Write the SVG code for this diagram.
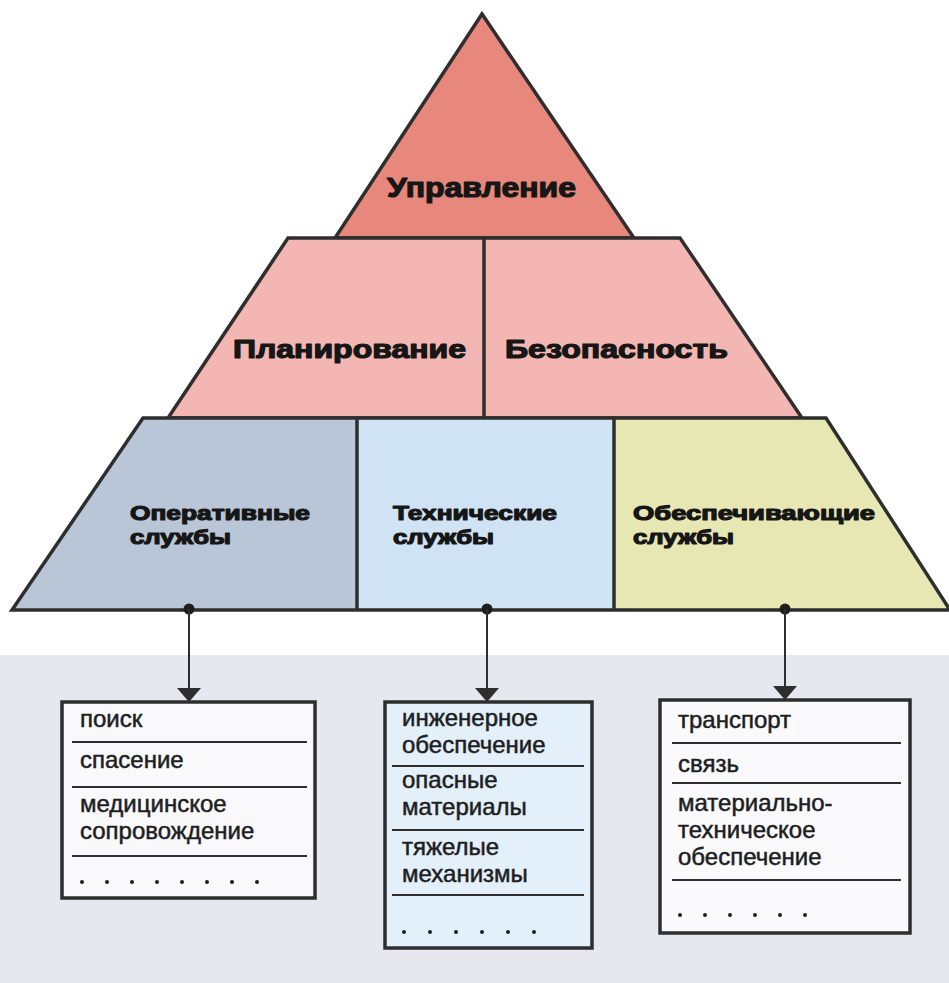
<svg xmlns="http://www.w3.org/2000/svg" width="949" height="983" viewBox="0 0 949 983">
  <style>
    .tier { stroke: #2e2e2e; stroke-width: 3.5; stroke-linejoin: miter; }
    .div { stroke: #2e2e2e; stroke-width: 3.5; }
    .head { font-family: "Liberation Sans", Arial, sans-serif; font-weight: bold; fill: #161616; stroke: #161616; stroke-width: 1.2; stroke-linejoin: round; }
    .h1 { font-size: 28px; }
    .h2 { font-size: 26px; }
    .h3 { font-size: 21px; }
    .box { stroke: #2e2e2e; stroke-width: 3.5; }
    .sep { stroke: #2e2e2e; stroke-width: 2; }
    .item { font-family: "Liberation Sans", Arial, sans-serif; font-size: 24px; fill: #1e1e1e; stroke: #1e1e1e; stroke-width: 0.5; }
    .dots { fill: #1e1e1e; }
    .conn { stroke: #2e2e2e; stroke-width: 2; fill: none; }
  </style>
  <defs>
    <marker id="arrow" viewBox="0 0 14 24" refX="14" refY="12" markerWidth="14" markerHeight="24" markerUnits="userSpaceOnUse" orient="auto">
      <path d="M0,0 L14,12 L0,24 Z" fill="#2e2e2e"/>
    </marker>
  </defs>

  <!-- background -->
  <rect x="0" y="0" width="949" height="983" fill="#ffffff"/>
  <rect x="0" y="655" width="949" height="328" fill="#e7e7f0"/>

  <!-- pyramid -->
  <g id="upravlenie">
    <polygon class="tier" points="482,14 335,238 634,238" fill="#e8877c"/>
    <text class="head h1" x="387" y="197" textLength="189" lengthAdjust="spacingAndGlyphs">Управление</text>
  </g>
  <g id="tier2">
    <polygon class="tier" points="288,238 680,238 802,418 168,418" fill="#f3b6b3"/>
    <line class="div" x1="484" y1="238" x2="484" y2="418"/>
  </g>
  <g id="planirovanie">
    <text class="head h2" x="233" y="358" textLength="233" lengthAdjust="spacingAndGlyphs">Планирование</text>
  </g>
  <g id="bezopasnost">
    <text class="head h2" x="505" y="358" textLength="223" lengthAdjust="spacingAndGlyphs">Безопасность</text>
  </g>
  <g id="tier3">
    <polygon points="143,418 357,418 357,610 12,610" fill="#b9c6d7"/>
    <polygon points="357,418 614,418 614,610 357,610" fill="#d0e3f5"/>
    <polygon points="614,418 826,418 950,610 614,610" fill="#e6e7b3"/>
    <polygon class="tier" points="143,418 826,418 950,610 12,610" fill="none"/>
    <line class="div" x1="357" y1="418" x2="357" y2="610"/>
    <line class="div" x1="614" y1="418" x2="614" y2="610"/>
  </g>
  <g id="operativnye">
    <text class="head h3"><tspan x="130" y="520" textLength="180" lengthAdjust="spacingAndGlyphs">Оперативные</tspan><tspan x="130" y="544" textLength="101" lengthAdjust="spacingAndGlyphs">службы</tspan></text>
  </g>
  <g id="tekhnicheskie">
    <text class="head h3"><tspan x="393" y="520" textLength="164" lengthAdjust="spacingAndGlyphs">Технические</tspan><tspan x="393" y="544" textLength="101" lengthAdjust="spacingAndGlyphs">службы</tspan></text>
  </g>
  <g id="obespechivayushchie">
    <text class="head h3"><tspan x="633" y="520" textLength="242" lengthAdjust="spacingAndGlyphs">Обеспечивающие</tspan><tspan x="633" y="544" textLength="101" lengthAdjust="spacingAndGlyphs">службы</tspan></text>
  </g>

  <!-- connectors -->
  <g id="connectors">
    <circle cx="189" cy="609" r="5.5" fill="#1e1e1e"/>
    <circle cx="487" cy="609" r="5.5" fill="#1e1e1e"/>
    <circle cx="785" cy="609" r="5.5" fill="#1e1e1e"/>
    <line class="conn" x1="189" y1="609" x2="189" y2="702" marker-end="url(#arrow)"/>
    <line class="conn" x1="487" y1="609" x2="487" y2="702" marker-end="url(#arrow)"/>
    <line class="conn" x1="785" y1="609" x2="785" y2="700" marker-end="url(#arrow)"/>
  </g>

  <!-- box 1 -->
  <g id="box-operativnye">
    <rect class="box" x="62" y="702" width="253" height="196" fill="#f9f9fc"/>
    <text class="item" x="80" y="727">поиск</text>
    <line class="sep" x1="72" y1="742" x2="307" y2="742"/>
    <text class="item" x="80" y="768">спасение</text>
    <line class="sep" x1="72" y1="787" x2="307" y2="787"/>
    <text class="item"><tspan x="80" y="812">медицинское</tspan><tspan x="80" y="839">сопровождение</tspan></text>
    <line class="sep" x1="72" y1="856" x2="307" y2="856"/>
    <g class="dots">
      <circle cx="82" cy="882" r="2"/><circle cx="107" cy="882" r="2"/><circle cx="132" cy="882" r="2"/><circle cx="157" cy="882" r="2"/>
      <circle cx="182" cy="882" r="2"/><circle cx="207" cy="882" r="2"/><circle cx="232" cy="882" r="2"/><circle cx="257" cy="882" r="2"/>
    </g>
  </g>

  <!-- box 2 -->
  <g id="box-tekhnicheskie">
    <rect class="box" x="385" y="702" width="207" height="246" fill="#e3eff9"/>
    <text class="item"><tspan x="402" y="726">инженерное</tspan><tspan x="402" y="753">обеспечение</tspan></text>
    <line class="sep" x1="392" y1="766" x2="584" y2="766"/>
    <text class="item"><tspan x="402" y="788">опасные</tspan><tspan x="402" y="815">материалы</tspan></text>
    <line class="sep" x1="392" y1="830" x2="584" y2="830"/>
    <text class="item"><tspan x="402" y="855">тяжелые</tspan><tspan x="402" y="882">механизмы</tspan></text>
    <line class="sep" x1="392" y1="895" x2="584" y2="895"/>
    <g class="dots">
      <circle cx="404" cy="932" r="2"/><circle cx="430" cy="932" r="2"/><circle cx="456" cy="932" r="2"/>
      <circle cx="482" cy="932" r="2"/><circle cx="508" cy="932" r="2"/><circle cx="534" cy="932" r="2"/>
    </g>
  </g>

  <!-- box 3 -->
  <g id="box-obespechivayushchie">
    <rect class="box" x="660" y="700" width="250" height="233" fill="#fafafd"/>
    <text class="item" x="678" y="728">транспорт</text>
    <line class="sep" x1="672" y1="743" x2="901" y2="743"/>
    <text class="item" x="678" y="772">связь</text>
    <line class="sep" x1="672" y1="783" x2="901" y2="783"/>
    <text class="item"><tspan x="678" y="811">материально-</tspan><tspan x="678" y="838">техническое</tspan><tspan x="678" y="865">обеспечение</tspan></text>
    <line class="sep" x1="672" y1="880" x2="901" y2="880"/>
    <g class="dots">
      <circle cx="680" cy="915" r="2"/><circle cx="705" cy="915" r="2"/><circle cx="730" cy="915" r="2"/>
      <circle cx="755" cy="915" r="2"/><circle cx="780" cy="915" r="2"/><circle cx="805" cy="915" r="2"/>
    </g>
  </g>
</svg>
